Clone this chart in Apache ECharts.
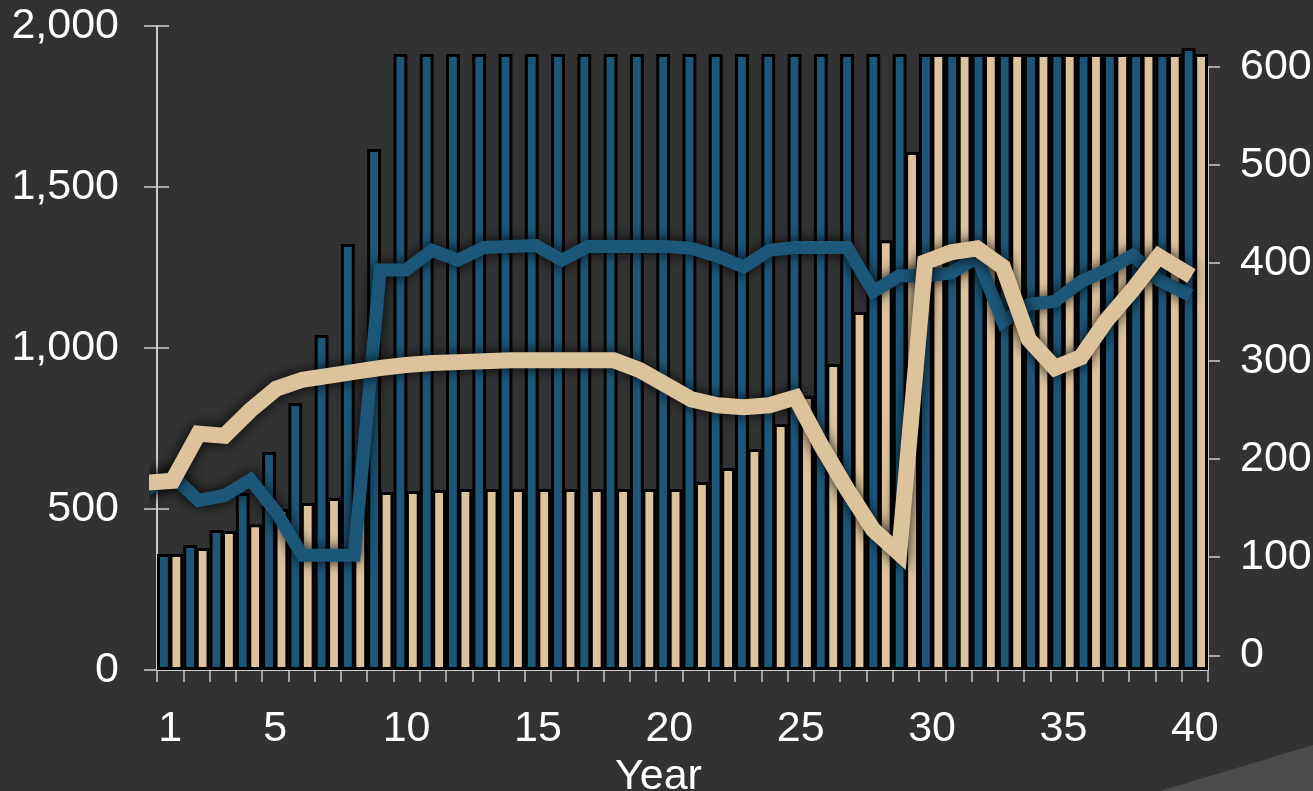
<!DOCTYPE html>
<html>
<head>
<meta charset="utf-8">
<style>
  html, body { margin: 0; padding: 0; background: #323232; }
  #chart { width: 1313px; height: 791px; }
</style>
<script src="https://cdn.jsdelivr.net/npm/echarts@6/dist/echarts.min.js"></script>
</head>
<body>
<div id="chart"></div>
<script>
// Categories: simulation years 1..40
const years = ['1','2','3','4','5','6','7','8','9','10','11','12','13','14','15','16','17','18','19','20',
               '21','22','23','24','25','26','27','28','29','30','31','32','33','34','35','36','37','38','39','40'];
const labeledYears = ['1','5','10','15','20','25','30','35','40'];

// Axis tick values
const leftTicks = [0, 500, 1000, 1500, 2000];
const rightTicks = [0, 100, 200, 300, 400, 500, 600];

// Bar series (left axis)
const blueBars = [360, 388, 435, 550, 677, 829, 1040, 1323, 1618, 1913,
                  1913, 1913, 1913, 1913, 1913, 1913, 1913, 1913, 1913, 1913,
                  1913, 1913, 1913, 1913, 1913, 1913, 1913, 1913, 1913, 1913,
                  1913, 1913, 1913, 1913, 1913, 1913, 1913, 1913, 1913, 1932];
const tanBars  = [360, 379, 432, 453, 500, 519, 534, 547, 553, 556,
                  559, 562, 562, 562, 562, 562, 562, 562, 562, 562,
                  584, 627, 686, 764, 851, 950, 1112, 1335, 1609, 1913,
                  1913, 1913, 1913, 1913, 1913, 1913, 1913, 1913, 1913, 1913];

// Line series (right axis), years 0..40
const lineYears = [0, 1, 2, 3, 4, 5, 6, 7, 8, 9, 10, 11, 12, 13, 14, 15, 16, 17, 18, 19, 20,
                   21, 22, 23, 24, 25, 26, 27, 28, 29, 30, 31, 32, 33, 34, 35, 36, 37, 38, 39, 40];
const blueLine = [169, 183, 158, 163, 179, 146, 102, 102, 102, 393, 393,
                  413, 403, 416, 417, 418, 403, 417, 417, 417, 417,
                  415, 407, 396, 413, 416, 416, 416, 371, 387, 387,
                  390, 406, 340, 358, 361, 381, 393, 408, 383, 370];
const tanLine  = [176, 178, 226, 224, 250, 272, 281, 285, 289, 293, 296,
                  298, 299, 300, 301, 301, 301, 301, 301, 291, 276,
                  261, 255, 253, 255, 263, 214, 169, 128, 104, 401,
                  411, 415, 396, 322, 293, 304, 342, 373, 407, 391];

const BLUE = '#1c5779';
const TAN = '#dcc39c';
const FONT = '"Liberation Sans", Arial, sans-serif';
const TEXT = { color: '#ffffff', fontSize: 43, fontFamily: FONT };

const chart = echarts.init(document.getElementById('chart'), null, { renderer: 'canvas' });

const lineShadow = { shadowColor: 'rgba(0,0,0,0.9)', shadowBlur: 14, shadowOffsetX: 0, shadowOffsetY: 0 };

chart.setOption({
  backgroundColor: '#323232',
  animation: false,
  graphic: [{
    type: 'polygon',
    silent: true,
    z: -1,
    shape: { points: [[1160, 791], [1313, 745], [1313, 791]] },
    style: { fill: '#4c4c4c' }
  }],
  grid: [
    { left: 157, right: 105, top: 26, bottom: 121, containLabel: false, outerBoundsMode: 'none' },
    { left: 157, right: 105, top: 67, bottom: 121, containLabel: false, outerBoundsMode: 'none' }
  ],
  xAxis: [
    {
      type: 'category', gridIndex: 0, data: years, boundaryGap: true,
      axisLine: { show: true, lineStyle: { color: '#ffffff', width: 1.5 } },
      axisTick: { show: true, interval: 0, length: 12, lineStyle: { color: '#c8c8c8', width: 1.5 } },
      axisLabel: {
        ...TEXT, margin: 38,
        interval: (i, v) => labeledYears.includes(v)
      },
      splitLine: { show: false },
      name: 'Year', nameLocation: 'middle', nameGap: 79,
      nameTextStyle: { ...TEXT, padding: [0, 48, 0, 0] }
    },
    { type: 'value', gridIndex: 1, min: 0.4, max: 40.9, show: false }
  ],
  yAxis: [
    {
      type: 'value', gridIndex: 0, position: 'left', min: 0, max: 2000, interval: 500,
      axisLine: { show: true, lineStyle: { color: '#ffffff', width: 1.5 } },
      axisTick: { show: true, length: 13, lineStyle: { color: '#d0d0d0', width: 1.5 } },
      axisLabel: { ...TEXT, margin: 38, formatter: v => v.toLocaleString('en-US') },
      splitLine: { show: false }
    },
    {
      type: 'value', gridIndex: 0, position: 'left', min: 0, max: 2000, interval: 500,
      axisLine: { show: false },
      axisTick: { show: true, inside: true, length: 12, lineStyle: { color: '#d0d0d0', width: 1.5 } },
      axisLabel: { show: false },
      splitLine: { show: false }
    },
    {
      type: 'value', gridIndex: 1, position: 'right', min: -15, max: 600,
      axisLine: { show: true, lineStyle: { color: '#ffffff', width: 1.5 } },
      axisTick: { show: true, length: 12, customValues: rightTicks, lineStyle: { color: '#d0d0d0', width: 1.5 } },
      axisLabel: { ...TEXT, margin: 32, customValues: rightTicks },
      splitLine: { show: false }
    },
    {
      type: 'value', gridIndex: 1, position: 'right', min: -15, max: 600,
      axisLine: { show: false },
      axisTick: { show: true, inside: true, length: 13, customValues: rightTicks, lineStyle: { color: '#d0d0d0', width: 1.5 } },
      axisLabel: { show: false },
      splitLine: { show: false }
    }
  ],
  series: [
    {
      name: 'Blue bars', type: 'bar', xAxisIndex: 0, yAxisIndex: 0, data: blueBars,
      barCategoryGap: '0%', barGap: '-10%', z: 2,
      itemStyle: { color: BLUE, borderColor: '#000000', borderWidth: 3 }
    },
    {
      name: 'Tan bars', type: 'bar', xAxisIndex: 0, yAxisIndex: 0, data: tanBars,
      barCategoryGap: '0%', barGap: '-10%', z: 2,
      itemStyle: { color: TAN, borderColor: '#000000', borderWidth: 3 }
    },
    {
      name: 'Blue line', type: 'line', xAxisIndex: 1, yAxisIndex: 2, z: 4, clip: false,
      data: lineYears.map((y, i) => [y, blueLine[i]]),
      symbol: 'none',
      lineStyle: { color: BLUE, width: 13, cap: 'square', join: 'miter', ...lineShadow }
    },
    {
      name: 'Tan line', type: 'line', xAxisIndex: 1, yAxisIndex: 2, z: 5, clip: false,
      data: lineYears.map((y, i) => [y, tanLine[i]]),
      symbol: 'none',
      lineStyle: { color: TAN, width: 16, cap: 'square', join: 'miter', ...lineShadow }
    }
  ]
});
</script>
</body>
</html>
